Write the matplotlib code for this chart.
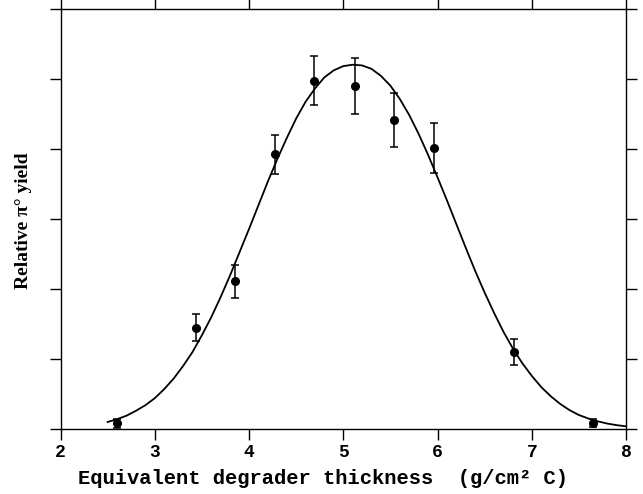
import numpy as np
import matplotlib
matplotlib.use('Agg')
import matplotlib.pyplot as plt

# measured points (degrader thickness, relative yield, error)
thickness = [2.60, 3.44, 3.85, 4.28, 4.69, 5.12, 5.54, 5.96, 6.81, 7.65]
pi0_yield = [0.08, 1.45, 2.11, 3.93, 4.98, 4.90, 4.42, 4.02, 1.10, 0.09]
yield_err = [0.06, 0.19, 0.23, 0.28, 0.35, 0.40, 0.38, 0.36, 0.19, 0.06]

# fitted curve
fit_x = [2.5, 2.6, 2.7, 2.8, 2.9, 3.0, 3.1, 3.2, 3.3, 3.4, 3.5, 3.6, 3.7, 3.8,
         3.9, 4.0, 4.1, 4.2, 4.3, 4.4, 4.5, 4.6, 4.7, 4.8, 4.9, 5.0, 5.1, 5.2,
         5.3, 5.4, 5.5, 5.6, 5.7, 5.8, 5.9, 6.0, 6.1, 6.2, 6.3, 6.4, 6.5, 6.6,
         6.7, 6.8, 6.9, 7.0, 7.1, 7.2, 7.3, 7.4, 7.5, 7.6, 7.7, 7.8, 7.9, 8.0]
fit_y = [0.10, 0.14, 0.19, 0.26, 0.34, 0.44, 0.57, 0.72, 0.90, 1.10, 1.34, 1.60, 1.89, 2.20,
         2.53, 2.86, 3.20, 3.54, 3.86, 4.16, 4.44, 4.68, 4.87, 5.03, 5.13, 5.19, 5.21, 5.20,
         5.15, 5.05, 4.91, 4.72, 4.49, 4.22, 3.92, 3.60, 3.27, 2.93, 2.59, 2.26, 1.95, 1.66,
         1.39, 1.15, 0.94, 0.76, 0.60, 0.47, 0.36, 0.27, 0.20, 0.15, 0.11, 0.078, 0.055, 0.038]

xticks = [2, 3, 4, 5, 6, 7, 8]
yticks = [0, 1, 2, 3, 4, 5, 6]

mono = 'Liberation Mono'

fig = plt.figure(figsize=(6.43, 4.94), dpi=100)
ax = fig.add_axes([0.0941, 0.1316, 0.8795, 0.8492])

ax.plot(fit_x, fit_y, color='black', lw=1.3)
ax.errorbar(thickness, pi0_yield, yerr=yield_err, fmt='o', color='black',
            ms=5.5, elinewidth=1.1, capsize=2.8, capthick=1.1)

ax.set_xlim(2, 8)
ax.set_ylim(0, 6)
ax.set_xticks(xticks)
ax.set_yticks(yticks)
ax.set_yticklabels([])
ax.tick_params(direction='out', length=8, width=1.0, top=True, right=True,
               labeltop=False, labelright=False, pad=3)
for lab in ax.get_xticklabels():
    lab.set_fontfamily(mono)
    lab.set_fontweight('bold')
    lab.set_fontsize(13)
for s in ax.spines.values():
    s.set_linewidth(1.0)

fig.text(0.502, 1 - 478 / 494, 'Equivalent degrader thickness  (g/cm\u00b2 C)',
         ha='center', va='center', family=mono, weight='bold', fontsize=14.8)
fig.text(24 / 643, 1 - 221 / 494, 'Relative \u03c0\u00b0 yield', rotation=90,
         ha='center', va='center', family='Liberation Serif', weight='bold', fontsize=14)

plt.savefig('out.png', dpi=100)
